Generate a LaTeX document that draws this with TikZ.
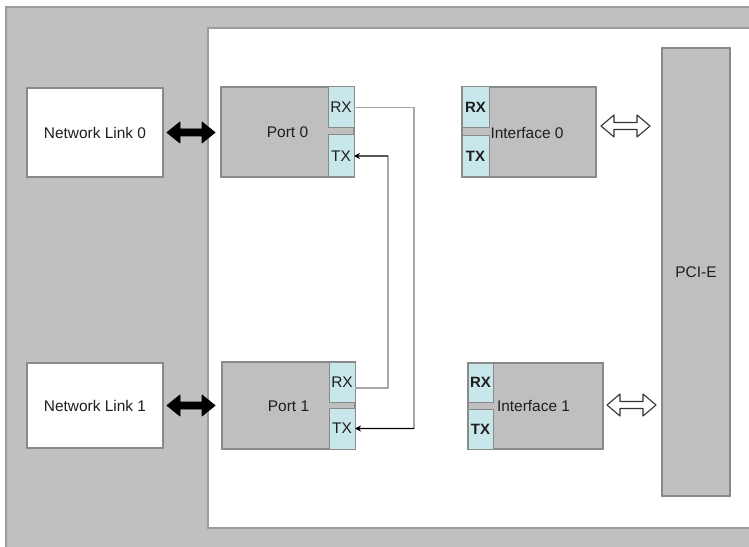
\documentclass[tikz,border=0pt]{standalone}
\usepackage{fontspec}
\setmainfont{Liberation Sans}
\usetikzlibrary{calc,arrows.meta}
\definecolor{bggray}{HTML}{C0C0C0}
\definecolor{framegray}{HTML}{9C9C9C}
\definecolor{boxgray}{HTML}{BFBFBF}
\definecolor{boxedge}{HTML}{8A8A8A}
\definecolor{cellcyan}{HTML}{C8E7EB}
\definecolor{wiregray}{HTML}{A8A8A8}
\definecolor{txt}{HTML}{1E1E1E}
\begin{document}
\begin{tikzpicture}[x=1bp,y=-1bp,
  font=\fontsize{15.5}{18}\selectfont,
  every node/.style={text=txt, inner sep=0pt, outer sep=0pt},
  box/.style={draw=boxedge, fill=boxgray, line width=1.2bp, anchor=north west},
  whitebox/.style={draw=boxedge, fill=white, line width=1.2bp, anchor=north west},
  cell/.style={draw=boxedge, fill=cellcyan, line width=1bp, anchor=north west},
  bcell/.style={cell, font=\fontsize{15}{18}\selectfont\bfseries},
  wire/.style={draw=wiregray, line width=1.1bp},
  warr/.style={draw=black, line width=1.4bp, -{Stealth[length=6bp,width=6bp]}},
  solidarrow/.style={fill=black, draw=black, line width=0.8bp, line join=round},
  hollowarrow/.style={fill=white, draw=black!80, line width=1.1bp, line join=round}]
\useasboundingbox (0,0) rectangle (749,547);
% outer frame
\path[fill=bggray, draw=framegray, line width=1.2bp] (6,7) rectangle (752,550);
\path[fill=white, draw=framegray, line width=1.5bp] (208,28) rectangle (752,528);

% network links
\node[whitebox, minimum width=136bp, minimum height=89bp] (nl0) at (27,88) {Network Link 0};
\node[whitebox, minimum width=136bp, minimum height=85bp] (nl1) at (27,363) {Network Link 1};

% ports
\node[box, minimum width=133bp, minimum height=90bp] (p0) at (221,87) {};
\node[cell, minimum width=26bp, minimum height=41bp] (p0rx) at (328,87) {RX};
\node[cell, minimum width=26bp, minimum height=42bp] (p0tx) at (328,135) {TX};
\node (p0t) at (p0.center) {Port 0};

\node[box, minimum width=133bp, minimum height=87bp] (p1) at (222,362) {};
\node[cell, minimum width=26bp, minimum height=40bp] (p1rx) at (329,362) {RX};
\node[cell, minimum width=26bp, minimum height=41bp] (p1tx) at (329,408) {TX};
\node (p1t) at ($(p1.center)+(0,1)$) {Port 1};

% interfaces
\node[box, minimum width=134bp, minimum height=90bp] (i0) at (462,87) {};
\node[bcell, minimum width=27bp, minimum height=41bp] (i0rx) at (462,87) {RX};
\node[bcell, minimum width=27bp, minimum height=41bp] (i0tx) at (462,136) {TX};
\node (i0t) at ($(i0.center)+(-2,1)$) {Interface 0};

\node[box, minimum width=135bp, minimum height=86bp] (i1) at (468,363) {};
\node[bcell, minimum width=25bp, minimum height=39bp] (i1rx) at (468,363) {RX};
\node[bcell, minimum width=25bp, minimum height=40bp] (i1tx) at (468,409) {TX};
\node (i1t) at ($(i1.center)+(-2,0)$) {Interface 1};

% PCI-E
\node[box, minimum width=68bp, minimum height=448bp] (pcie) at (662,48) {};
\node (pciet) at (pcie.center) {PCI-E};

% loop-back wires
\coordinate (c2) at (414,428.5);
\draw[wire] (p0rx.east) -| (c2);
\draw[warr] (c2) -- (p1tx.east);
\coordinate (c3) at (388,156);
\coordinate (c4) at (388,388);
\draw[wire] (p1rx.east |- c4) -- (c4) -- (c3);
\draw[warr] (c3) -- (p0tx.east);

% solid double arrows
\foreach \s/\e in {nl0/p0, nl1/p1}{
  \path[solidarrow] ($(\s.east)+(4,0)$) -- ++(13,-10.5) -- ++(0,7) -- ++(22,0) -- ++(0,-7)
     -- ++(13,10.5) -- ++(-13,10.5) -- ++(0,-7) -- ++(-22,0) -- ++(0,7) -- cycle;
}
% hollow double arrows
\path[hollowarrow] ($(i0.east)+(5,-6)$) -- ++(13,-11) -- ++(0,7.5) -- ++(23,0) -- ++(0,-7.5)
     -- ++(13,11) -- ++(-13,11) -- ++(0,-7.5) -- ++(-23,0) -- ++(0,7.5) -- cycle;
\path[hollowarrow] ($(i1.east)+(4,-1)$) -- ++(13,-11) -- ++(0,7.5) -- ++(23,0) -- ++(0,-7.5)
     -- ++(13,11) -- ++(-13,11) -- ++(0,-7.5) -- ++(-23,0) -- ++(0,7.5) -- cycle;
\end{tikzpicture}
\end{document}
